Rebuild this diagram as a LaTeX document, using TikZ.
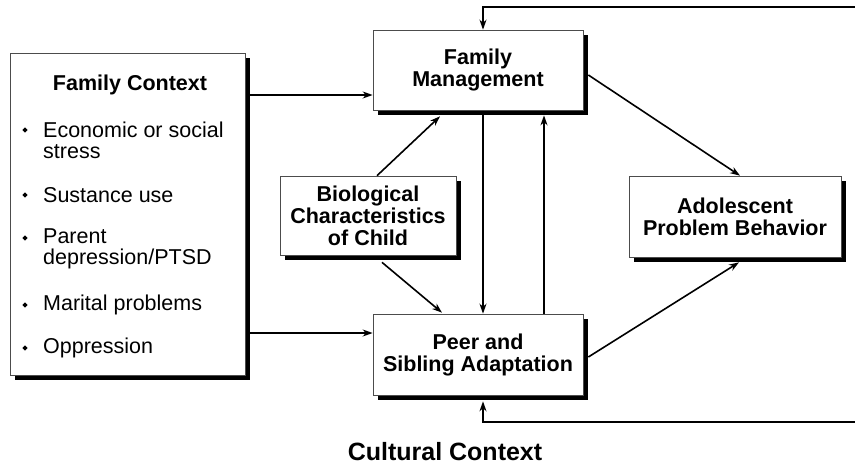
\documentclass[tikz,border=0pt]{standalone}
\usepackage{fontspec}
\setmainfont{Liberation Sans}
\usetikzlibrary{shadows,arrows.meta,shapes.geometric}

\tikzset{
  box/.style={draw=black!70, line width=0.7pt, fill=white, align=center, inner sep=0pt,
    font=\fontsize{21.5}{22}\selectfont\bfseries,
    drop shadow={shadow xshift=5pt,shadow yshift=-5pt,fill=black,opacity=1}},
  arr/.style={line width=1.6pt, -{Stealth[length=10pt,width=7pt]}},
  item/.style={anchor=west, align=left, inner sep=0pt, font=\fontsize{21.5}{21}\selectfont},
  dot/.style={diamond, fill=black, inner sep=0pt, minimum size=5.5pt},
}

\begin{document}
\begin{tikzpicture}[x=1pt,y=-1pt]
\useasboundingbox (0,0) rectangle (855,467);

% Family Context
\node[box, minimum width=235pt, minimum height=322pt] (fc) at (127.5,214) {};
\node[font=\fontsize{21.5}{22}\selectfont\bfseries] (fctitle) at (130,85) {Family Context};
\node[dot] (d1) at (25,130) {};
\node[item] (i1) at (43,140) {Economic or social\\stress};
\node[dot] (d2) at (25,195) {};
\node[item] (i2) at (43,195) {Sustance use};
\node[dot] (d3) at (25,238) {};
\node[item] (i3) at (43,249) {Parent\\depression/PTSD};
\node[dot] (d4) at (25,305) {};
\node[item] (i4) at (43,305) {Marital problems};
\node[dot] (d5) at (25,348) {};
\node[item] (i5) at (43,348) {Oppression};

% Middle and right boxes
\node[box, minimum width=210pt, minimum height=80pt] (fm) at (478,70) {Family\\Management};
\node[box, minimum width=210pt, minimum height=81pt] (peer) at (478,354.5) {Peer and\\Sibling Adaptation};
\node[box, minimum width=176pt, minimum height=79pt] (bio) at (368,215.5) {Biological\\Characteristics\\of Child};
\node[box, minimum width=212pt, minimum height=81pt] (adol) at (735,216.5) {Adolescent\\Problem Behavior};

\node[font=\fontsize{25}{26}\selectfont\bfseries, inner sep=0pt] (culture) at (445,452) {Cultural Context};

% Helper points
\coordinate (fcr) at ([xshift=5pt]fc.east);
\coordinate (fmin) at ([shift={(0,25)}]fm.west);
\coordinate (peerin) at ([shift={(0,-21.5)}]peer.west);
\coordinate (toptr) at (855,7);
\coordinate (bottr) at (855,422);

% Arrows from family context
\draw[arr] (fmin -| fcr) -- (fmin);
\draw[arr] (peerin -| fcr) -- (peerin);

% Biological characteristics
\draw[arr] ([shift={(9,0)}]bio.north) -- ([shift={(-38,6)}]fm.south);
\draw[arr] ([shift={(14,7)}]bio.south) -- ([shift={(-36,-1)}]peer.north);

% Between family management and peers
\draw[arr] ([shift={(5,5)}]fm.south) -- ([shift={(5,0)}]peer.north);
\draw[arr] ([shift={(66,0)}]peer.north) -- ([shift={(66,5)}]fm.south);

% Towards problem behavior
\draw[arr] ([shift={(5,5)}]fm.east) -- ([shift={(5,0)}]adol.north);
\draw[arr] ([shift={(5,2.5)}]peer.east) -- ([shift={(4,5)}]adol.south);

% Feedback loops
\draw[arr] (toptr) -| ([xshift=5pt]fm.north);
\draw[arr] (bottr) -| ([shift={(5,6)}]peer.south);
\end{tikzpicture}
\end{document}
